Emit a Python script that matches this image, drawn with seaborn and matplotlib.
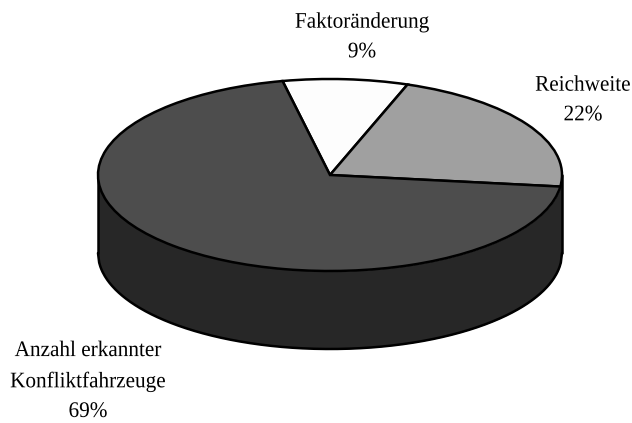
import numpy as np
import matplotlib
matplotlib.use("Agg")
import matplotlib.pyplot as plt
from matplotlib.patheffects import AbstractPathEffect
from matplotlib.transforms import Affine2D
import seaborn as sns

labels = ["Faktoränderung\n9%", "Reichweite\n22%", "Anzahl erkannter\nKonfliktfahrzeuge\n69%"]
values = [8.7, 21.5, 69.8]
colors = ["#fdfdfd", "#a0a0a0", "#4d4d4d"]
side_color = "#272727"

sns.set_theme(style="white")
plt.rcParams["font.family"] = ["Liberation Serif", "DejaVu Serif"]


class Squeeze(AbstractPathEffect):
    """Condense each text line horizontally about its own centre."""

    def __init__(self, factor):
        super().__init__()
        self.factor = factor

    def draw_path(self, renderer, gc, tpath, affine, rgbFace=None):
        mid = tpath.get_extents().x0 + tpath.get_extents().width / 2
        squeeze = Affine2D().translate(-mid, 0).scale(self.factor, 1).translate(mid, 0)
        renderer.draw_path(gc, tpath, squeeze + affine, rgbFace)


W, H = 632, 423
cx, cy, rx, ry, depth = 330, 175, 232, 96, 78
fig = plt.figure(figsize=(W / 100, H / 100), dpi=100)
ax = fig.add_axes([0, 0, 1, 1])

ax.pie(values, colors=colors, startangle=101.8, counterclock=False,
       wedgeprops=dict(edgecolor="black", linewidth=1.8, zorder=3), frame=True)
ax.set_aspect("auto")
ax.set_xlim(-cx / rx, (W - cx) / rx)
ax.set_ylim((cy - H) / ry, cy / ry)
ax.axis("off")

x = np.linspace(-1, 1, 400)
top = -np.sqrt(1 - x ** 2)
d = depth / ry
ax.fill_between(x, top, top - d, color=side_color, lw=0, zorder=1)
ax.plot(x, top - d, color="black", lw=1.8, zorder=2)
ax.plot([-1, -1], [0, -d], color="black", lw=1.8, zorder=2)
ax.plot([1, 1], [0, -d], color="black", lw=1.8, zorder=2)

fs = 16
pos = [(362, 38), (583, 101), (88, 382)]
for lab, (px, py) in zip(labels, pos):
    ax.text((px - cx) / rx, (cy - py) / ry, lab, ha="center", va="center",
            fontsize=fs, color="black", linespacing=1.76, zorder=5,
            path_effects=[Squeeze(0.955)])

fig.savefig("out.png", dpi=100)
